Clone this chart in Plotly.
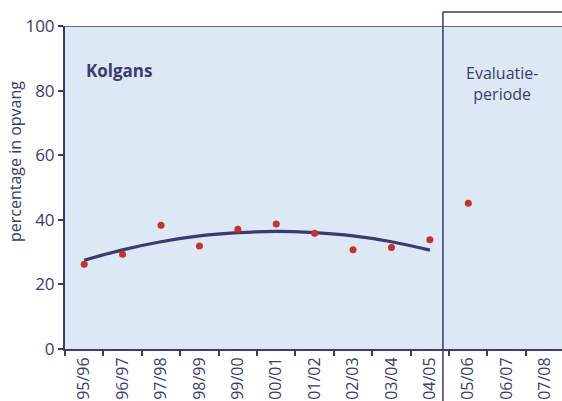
import plotly.graph_objects as go

seasons = ["95/96", "96/97", "97/98", "98/99", "99/00", "00/01", "01/02",
           "02/03", "03/04", "04/05", "05/06", "06/07", "07/08"]
opvang = [26.2, 29.3, 38.3, 31.9, 37.1, 38.7, 35.8, 30.7, 31.4, 33.8, 45.1, None, None]
trend_seasons = seasons[:10]
trend = [27.5, 30.7, 33.2, 35.0, 36.0, 36.4, 36.0, 35.0, 33.2, 30.6]
y_ticks = [0, 20, 40, 60, 80, 100]

navy = "#3b3b6e"
red = "#c4322b"
bg = "#dde8f5"
font = "Open Sans"

fig = go.Figure()
fig.add_trace(go.Scatter(x=trend_seasons, y=trend, mode="lines",
                         line=dict(color=navy, width=3.2, shape="spline"),
                         hoverinfo="skip"))
fig.add_trace(go.Scatter(x=seasons, y=opvang, mode="markers",
                         marker=dict(color=red, size=7)))

fig.update_layout(
    width=562, height=401,
    margin=dict(l=65, r=0, t=26, b=52),
    paper_bgcolor="white", plot_bgcolor=bg,
    showlegend=False,
    font=dict(family=font, color=navy),
    xaxis=dict(type="category", categoryorder="array", categoryarray=seasons,
               range=[-0.5, 12.44], showgrid=False, zeroline=False, automargin=False,
               showline=True, linecolor=navy, linewidth=2,
               ticks="outside", tickson="boundaries", ticklen=5, tickwidth=1.5,
               tickcolor=navy, tickangle=-90,
               tickfont=dict(size=16, color=navy, family=font)),
    yaxis=dict(range=[0, 100], tickvals=y_ticks, showgrid=False, zeroline=False,
               automargin=False,
               showline=True, linecolor=navy, linewidth=2,
               ticks="outside", ticklen=5, tickwidth=1.5, tickcolor=navy,
               tickfont=dict(size=17, color=navy, family=font)),
)

ph = 401 - 26 - 52
top_box = 1 + 14 / ph
bottom = -52 / ph
vx = 9.34

fig.add_shape(type="line", xref="paper", yref="y", x0=0, x1=1, y0=100, y1=100,
              line=dict(color=navy, width=1.5))
fig.add_shape(type="line", xref="x", yref="paper", x0=vx, x1=vx, y0=bottom, y1=top_box,
              line=dict(color=navy, width=1.5))
fig.add_shape(type="line", xref="x", yref="paper", x0=vx, x1=12.44, y0=top_box, y1=top_box,
              line=dict(color=navy, width=1.5))

fig.add_annotation(text="percentage in opvang", xref="paper", yref="paper",
                   x=-50 / 497, y=(349 - 162) / ph, textangle=-90, showarrow=False,
                   font=dict(size=16, color=navy, family=font), xanchor="center", yanchor="middle")
fig.add_annotation(text="<b>Kolgans</b>", xref="paper", yref="paper",
                   x=19 / 497, y=(349 - 70) / ph, showarrow=False, xanchor="left", yanchor="middle",
                   font=dict(size=17, color=navy, family=font))
fig.add_annotation(text="Evaluatie-<br>periode", xref="paper", yref="paper",
                   x=(502 - 65) / 497, y=(349 - 84) / ph, showarrow=False,
                   xanchor="center", yanchor="middle", align="center",
                   font=dict(size=16, color=navy, family=font))

fig.write_html("out.html", config={"displayModeBar": False},
               post_script="document.body.style.margin='0';document.body.style.overflow='hidden';")
